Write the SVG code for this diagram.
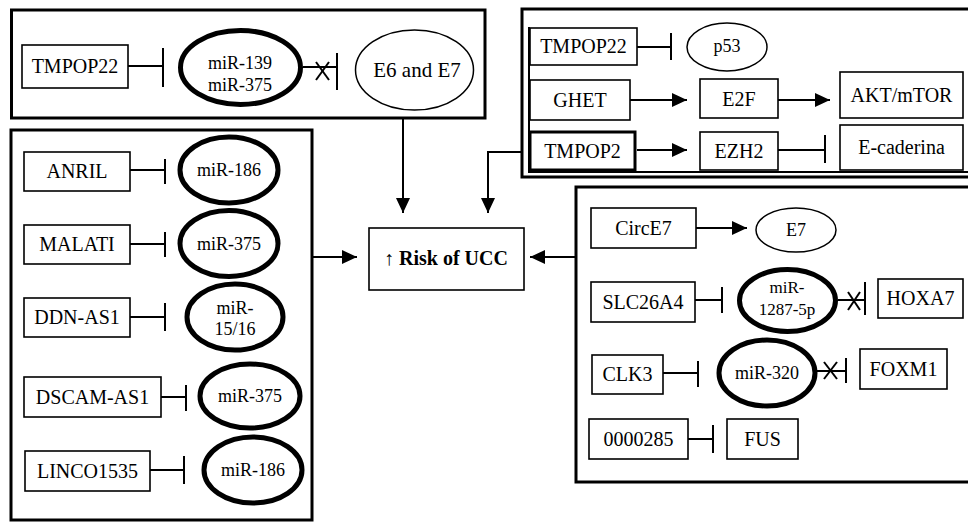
<svg xmlns="http://www.w3.org/2000/svg" width="968" height="523" viewBox="0 0 968 523">
<defs>
<marker id="ah" markerUnits="userSpaceOnUse" markerWidth="16" markerHeight="14" refX="15" refY="7" orient="auto"><path d="M0,0 L15,7 L0,14 Z" fill="#000"/></marker>
</defs>
<style>
.frame{fill:none;stroke:#000;stroke-width:3}
.box{fill:#fff;stroke:#000;stroke-width:1.6}
.tbox{fill:#fff;stroke:#000;stroke-width:3}
.mir{fill:#fff;stroke:#000;stroke-width:5}
.ell{fill:#fff;stroke:#000;stroke-width:1.5}
text{font-family:'Liberation Serif','Times New Roman',Times,'DejaVu Serif','Noto Serif',serif;font-size:20px;fill:#000;text-anchor:middle}
.m{font-size:18px}
.b{font-weight:bold}
.c line,.c path{stroke:#000;stroke-width:2;fill:none}
</style>
<rect width="968" height="523" fill="#fff"/>
<g id="frames">
<rect class="frame" x="11.5" y="10" width="473.5" height="108"/>
<rect class="frame" x="522" y="9" width="460" height="168"/>
<path d="M529,27 V172 H968" fill="none" stroke="#000" stroke-width="2"/>
<rect class="frame" x="11" y="130" width="301" height="390"/>
<rect class="frame" x="576" y="187" width="400" height="295"/>
</g>
<g class="c" id="connectors">
<line x1="128" y1="66" x2="163" y2="66"/><line x1="163" y1="48" x2="163" y2="87"/>
<line x1="303" y1="67" x2="337" y2="67"/><line x1="337" y1="53" x2="337" y2="90"/>
<line x1="316" y1="62" x2="329" y2="80"/><line x1="329" y1="62" x2="316" y2="80"/>
<line x1="637" y1="47" x2="671" y2="47"/><line x1="671" y1="33" x2="671" y2="60"/>
<line x1="630" y1="100" x2="687" y2="100" marker-end="url(#ah)"/>
<line x1="778" y1="100" x2="830" y2="100" marker-end="url(#ah)"/>
<line x1="637" y1="150" x2="687" y2="150" marker-end="url(#ah)"/>
<line x1="778" y1="150" x2="825" y2="150"/><line x1="825" y1="135" x2="825" y2="163"/>
<line x1="130" y1="170" x2="165" y2="170"/><line x1="165" y1="159" x2="165" y2="184"/>
<line x1="130" y1="244" x2="165" y2="244"/><line x1="165" y1="232" x2="165" y2="257"/>
<line x1="130" y1="317" x2="165" y2="317"/><line x1="165" y1="303" x2="165" y2="331"/>
<line x1="161" y1="397" x2="186" y2="397"/><line x1="186" y1="385" x2="186" y2="411"/>
<line x1="150" y1="470" x2="184" y2="470"/><line x1="184" y1="456" x2="184" y2="484"/>
<line x1="696" y1="228" x2="747" y2="228" marker-end="url(#ah)"/>
<line x1="695" y1="300" x2="722" y2="300"/><line x1="722" y1="287" x2="722" y2="313"/>
<line x1="838" y1="300" x2="865" y2="300"/><line x1="865" y1="282" x2="865" y2="315"/>
<line x1="848" y1="292" x2="860" y2="310"/><line x1="860" y1="292" x2="848" y2="310"/>
<line x1="663" y1="373" x2="698" y2="373"/><line x1="698" y1="361" x2="698" y2="387"/>
<line x1="817" y1="371" x2="846" y2="371"/><line x1="846" y1="358" x2="846" y2="383"/>
<line x1="824" y1="362" x2="837" y2="379"/><line x1="837" y1="362" x2="824" y2="379"/>
<line x1="688" y1="439" x2="713" y2="439"/><line x1="713" y1="425" x2="713" y2="453"/>
<line x1="403" y1="118" x2="403" y2="213" marker-end="url(#ah)"/>
<path d="M522,152 H488 V213" marker-end="url(#ah)"/>
<line x1="312" y1="257" x2="357" y2="257" marker-end="url(#ah)"/>
<line x1="576" y1="257" x2="530" y2="257" marker-end="url(#ah)"/>
</g>
<g id="n-risk"><rect class="box" x="369" y="228" width="155" height="62"/><text class="b" x="446" y="265">↑ Risk of UCC</text></g>
<g id="n-tmpop22a"><rect class="box" x="22" y="45" width="106" height="43"/><text x="75" y="73">TMPOP22</text></g>
<g id="n-mir139"><ellipse class="mir" cx="240.5" cy="67.5" rx="60" ry="37"/><text class="m" x="240" y="69">miR-139</text><text class="m" x="240" y="91">miR-375</text></g>
<g id="n-e6e7"><ellipse class="ell" cx="414.5" cy="70" rx="59" ry="40"/><text x="417" y="77" style="font-size:21px">E6 and E7</text></g>
<g id="n-tmpop22b"><rect class="box" x="530" y="28" width="107" height="37"/><text x="583.5" y="53">TMPOP22</text></g>
<g id="n-p53"><ellipse class="ell" cx="727" cy="47" rx="40" ry="24"/><text class="m" x="727" y="52">p53</text></g>
<g id="n-ghet"><rect class="box" x="530" y="80" width="100" height="40"/><text x="580" y="107">GHET</text></g>
<g id="n-e2f"><rect class="box" x="700" y="79" width="78" height="39"/><text x="739" y="106">E2F</text></g>
<g id="n-akt"><rect class="box" x="840" y="72" width="123" height="46"/><text x="901.5" y="102">AKT/mTOR</text></g>
<g id="n-tmpop2"><rect class="tbox" x="530" y="132" width="105" height="38"/><text x="582.5" y="158">TMPOP2</text></g>
<g id="n-ezh2"><rect class="box" x="700" y="132" width="78" height="38"/><text x="739" y="158">EZH2</text></g>
<g id="n-ecad"><rect class="box" x="840" y="125" width="123" height="45"/><text x="901.5" y="154">E-caderina</text></g>
<g id="n-anril"><rect class="box" x="24" y="152" width="106" height="39"/><text x="77" y="178">ANRIL</text></g>
<g id="n-mir186a"><ellipse class="mir" cx="229" cy="170" rx="49" ry="33"/><text class="m" x="229" y="176">miR-186</text></g>
<g id="n-malati"><rect class="box" x="24" y="225" width="106" height="39"/><text x="77" y="251">MALATI</text></g>
<g id="n-mir375a"><ellipse class="mir" cx="229" cy="243.5" rx="49" ry="33"/><text class="m" x="229" y="250">miR-375</text></g>
<g id="n-ddn"><rect class="box" x="24" y="298" width="106" height="39"/><text x="77" y="324">DDN-AS1</text></g>
<g id="n-mir1516"><ellipse class="mir" cx="235" cy="317" rx="48" ry="33"/><text class="m" x="235" y="314">miR-</text><text class="m" x="235" y="335">15/16</text></g>
<g id="n-dscam"><rect class="box" x="24" y="377" width="137" height="40"/><text x="92.5" y="404">DSCAM-AS1</text></g>
<g id="n-mir375b"><ellipse class="mir" cx="250" cy="396" rx="50" ry="32"/><text class="m" x="250" y="402">miR-375</text></g>
<g id="n-linco"><rect class="box" x="25" y="451" width="125" height="40"/><text x="87.5" y="478">LINCO1535</text></g>
<g id="n-mir186b"><ellipse class="mir" cx="253" cy="470" rx="49" ry="33"/><text class="m" x="253" y="476">miR-186</text></g>
<g id="n-circe7"><rect class="box" x="591" y="208" width="105" height="40"/><text x="643.5" y="235">CircE7</text></g>
<g id="n-e7"><ellipse class="ell" cx="796" cy="230" rx="40" ry="22"/><text class="m" x="796" y="236">E7</text></g>
<g id="n-slc"><rect class="box" x="591" y="282" width="104" height="40"/><text x="643" y="309">SLC26A4</text></g>
<g id="n-mir1287"><ellipse class="mir" cx="787.5" cy="300.5" rx="48" ry="31"/><text class="m" x="787" y="293" style="font-size:17px">miR-</text><text class="m" x="787" y="315" style="font-size:17px">1287-5p</text></g>
<g id="n-hoxa7"><rect class="box" x="878" y="279" width="85" height="39"/><text x="920.5" y="305">HOXA7</text></g>
<g id="n-clk3"><rect class="box" x="592" y="355" width="71" height="39"/><text x="627.5" y="381">CLK3</text></g>
<g id="n-mir320"><ellipse class="mir" cx="767" cy="373" rx="48" ry="33"/><text class="m" x="767" y="379">miR-320</text></g>
<g id="n-foxm1"><rect class="box" x="860" y="349" width="87" height="40"/><text x="903.5" y="376">FOXM1</text></g>
<g id="n-0000285"><rect class="box" x="589" y="419" width="99" height="40"/><text x="638.5" y="446">0000285</text></g>
<g id="n-fus"><rect class="box" x="727" y="419" width="71" height="40"/><text x="762.5" y="446">FUS</text></g>
</svg>
